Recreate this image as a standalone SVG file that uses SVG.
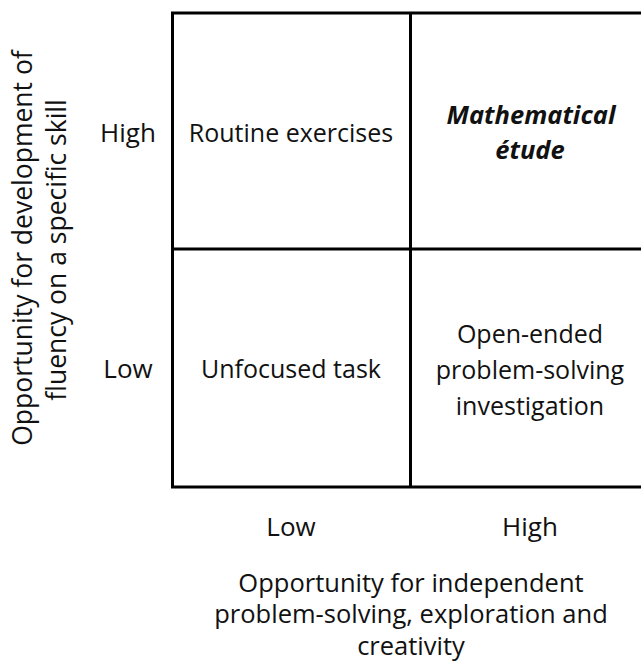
<svg xmlns="http://www.w3.org/2000/svg" width="641" height="667" viewBox="0 0 641 667">
<style>
text{font-family:"Open Sans","Noto Sans","DejaVu Sans",sans-serif;font-size:25px;fill:#111;text-anchor:middle}
.bi{font-weight:bold;font-style:italic;font-size:25.5px}
.ax{font-size:25.5px}
.ay{font-size:26.5px}
.lv{font-size:26px}
.grid{fill:none;stroke:#000;stroke-width:3}
</style>
<rect width="641" height="667" fill="#fff"/>
<g id="connectors">
<rect class="grid" x="172.5" y="13" width="490" height="474"/>
<line class="grid" x1="410.5" y1="13" x2="410.5" y2="487"/>
<line class="grid" x1="172.5" y1="249" x2="662" y2="249"/>
</g>
<g id="cell-routine"><text x="291" y="142">Routine exercises</text></g>
<g id="cell-etude"><text class="bi" x="531" y="124">Mathematical</text><text class="bi" x="530" y="159">étude</text></g>
<g id="cell-unfocused"><text x="291" y="378">Unfocused task</text></g>
<g id="cell-open"><text x="530" y="343">Open-ended</text><text x="530" y="379">problem-solving</text><text x="530" y="415">investigation</text></g>
<g id="y-labels"><text class="lv" x="128" y="142">High</text><text class="lv" x="128" y="378">Low</text></g>
<g id="x-labels"><text class="lv" x="291" y="536">Low</text><text class="lv" x="530" y="536">High</text></g>
<g id="x-axis-title"><text class="ax" x="411" y="592">Opportunity for independent</text><text class="ax" x="411" y="623">problem-solving, exploration and</text><text class="ax" x="411" y="655">creativity</text></g>
<g id="y-axis-title"><text class="ay" transform="translate(32,248) rotate(-90)">Opportunity for development of</text><text class="ay" transform="translate(66,250) rotate(-90)">fluency on a specific skill</text></g>
</svg>
